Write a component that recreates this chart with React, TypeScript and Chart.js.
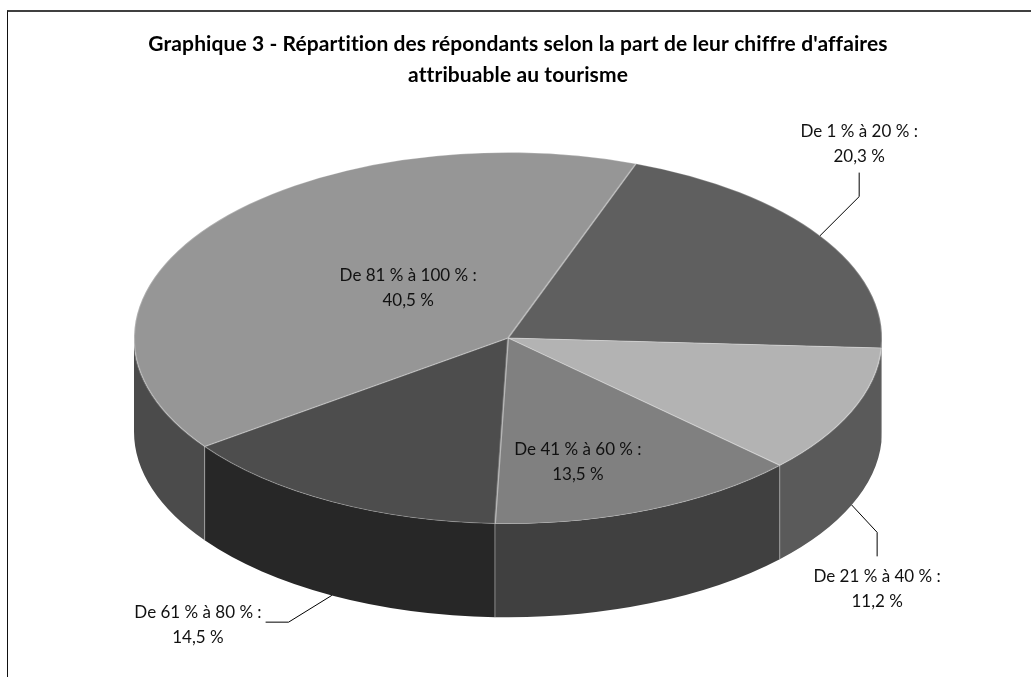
import React, { useEffect, useRef } from "react";
import { Chart, registerables } from "chart.js";

Chart.register(...registerables);

// ---- data ----
const titleLines = [
  "Graphique 3 - Répartition des répondants selon la part de leur chiffre d'affaires",
  "attribuable au tourisme",
];
const categories = [
  "De 1 % à 20 %",
  "De 21 % à 40 %",
  "De 41 % à 60 %",
  "De 61 % à 80 %",
  "De 81 % à 100 %",
];
const shares = [20.3, 11.2, 13.5, 14.5, 40.5];

// ---- styles ----
const topColors = ["#5f5f5f", "#b3b3b3", "#808080", "#4d4d4d", "#969696"];
const sideColors = ["#303030", "#5a5a5a", "#404040", "#272727", "#4b4b4b"];
const STRETCH = 375 / 186; // horizontal radius / vertical radius of the top face
const DEPTH = 94 / 186; // wall height / vertical radius
const FONT = "Lato, 'Open Sans', sans-serif";
const LABEL_SIZE = 17;
const TITLE_SIZE = 21;
const LINE_GAP = 25;

// label placement in units of (rx, ry) from the pie centre
const labelPlacement = [
  { dx: 0.939, dy: -1.048, leader: "below" },
  { dx: 0.987, dy: 1.355, leader: "above" },
  { dx: 0.187, dy: 0.667, leader: "" },
  { dx: -0.829, dy: 1.548, leader: "right" },
  { dx: -0.267, dy: -0.269, leader: "" },
];

const fmt = (v: number) => v.toFixed(1).replace(".", ",") + " %";

export default function App() {
  const ref = useRef<HTMLCanvasElement>(null);

  useEffect(() => {
    const canvas = ref.current;
    if (!canvas) return;

    const pie3d = {
      id: "pie3d",
      beforeDatasetsDraw(chart: any) {
        const ctx = chart.ctx as CanvasRenderingContext2D;
        const arcs = chart.getDatasetMeta(0).data as any[];
        if (!arcs.length) return;
        const { x: cx, y: cy, outerRadius: R } = arcs[0];
        const rx = R * STRETCH;
        const ry = R;
        const D = R * DEPTH;
        ctx.save();
        arcs.forEach((a, i) => {
          const s = a.startAngle;
          const e = a.endAngle;
          for (const k of [-1, 0, 1]) {
            const lo = k * 2 * Math.PI;
            const b1 = Math.max(s, lo);
            const b2 = Math.min(e, lo + Math.PI);
            if (b2 > b1) {
              ctx.beginPath();
              ctx.ellipse(cx, cy, rx, ry, 0, b1, b2, false);
              ctx.ellipse(cx, cy + D, rx, ry, 0, b2, b1, true);
              ctx.closePath();
              ctx.fillStyle = sideColors[i];
              ctx.fill();
            }
          }
        });
        // light separators on the wall
        ctx.strokeStyle = "rgba(200,200,200,0.55)";
        ctx.lineWidth = 1;
        arcs.forEach((a) => {
          const ang = a.startAngle;
          if (Math.sin(ang) > 0) {
            const x = cx + rx * Math.cos(ang);
            const y = cy + ry * Math.sin(ang);
            ctx.beginPath();
            ctx.moveTo(x, y);
            ctx.lineTo(x, y + D);
            ctx.stroke();
          }
        });
        ctx.restore();
        // stretch the library's circular pie into the top ellipse
        ctx.save();
        ctx.translate(cx, cy);
        ctx.scale(STRETCH, 1);
        ctx.translate(-cx, -cy);
      },
      afterDatasetsDraw(chart: any) {
        const arcs = chart.getDatasetMeta(0).data as any[];
        if (!arcs.length) return;
        chart.ctx.restore();
      },
      afterDraw(chart: any) {
        const ctx = chart.ctx as CanvasRenderingContext2D;
        const arcs = chart.getDatasetMeta(0).data as any[];
        if (!arcs.length) return;
        const { x: cx, y: cy, outerRadius: R } = arcs[0];
        const rx = R * STRETCH;
        const ry = R;
        const D = R * DEPTH;
        ctx.save();
        ctx.textAlign = "center";
        ctx.textBaseline = "middle";
        ctx.fillStyle = "#111";
        ctx.font = `${LABEL_SIZE}px ${FONT}`;
        arcs.forEach((a, i) => {
          const p = labelPlacement[i];
          const lx = cx + p.dx * rx;
          const ly = cy + p.dy * ry;
          const l1 = categories[i] + " :";
          const l2 = fmt(shares[i]);
          ctx.fillText(l1, lx, ly - LINE_GAP / 2);
          ctx.fillText(l2, lx, ly + LINE_GAP / 2);
          if (p.leader) {
            const m = (a.startAngle + a.endAngle) / 2;
            const ax = cx + rx * Math.cos(m);
            const ay = cy + ry * Math.sin(m) + (Math.sin(m) > 0 ? D : 0);
            let sx = lx, sy = ly, ex = lx, ey = ly;
            if (p.leader === "below") {
              sy = ly + 29; ey = ly + 53;
            } else if (p.leader === "above") {
              sy = ly - 33; ey = ly - 57;
            } else {
              const w = ctx.measureText(l1).width;
              sx = lx + w / 2 + 4; sy = ly - 3;
              ex = sx + 23; ey = sy;
            }
            ctx.beginPath();
            ctx.strokeStyle = "#000";
            ctx.lineWidth = 1;
            ctx.moveTo(sx, sy);
            ctx.lineTo(ex, ey);
            ctx.lineTo(ax, ay);
            ctx.stroke();
          }
        });
        // title
        ctx.font = `bold ${TITLE_SIZE}px ${FONT}`;
        try {
          (ctx as any).letterSpacing = "0.1px";
        } catch (e) {}
        ctx.fillStyle = "#000";
        ctx.fillText(titleLines[0], 518, 44);
        ctx.fillText(titleLines[1], 518, 75);
        ctx.restore();
      },
    };

    const chart = new Chart(canvas, {
      type: "pie",
      data: {
        labels: categories,
        datasets: [
          {
            data: shares,
            backgroundColor: topColors,
            borderColor: "rgba(255,255,255,0.25)",
            borderWidth: 1,
            clip: false as any,
          },
        ],
      },
      options: {
        responsive: false,
        maintainAspectRatio: false,
        devicePixelRatio: 1,
        animation: false,
        rotation: 20,
        layout: { padding: { top: 152, bottom: 153, left: 136, right: 151 } },
        plugins: {
          legend: { display: false },
          title: { display: false },
          tooltip: { enabled: false },
        },
        events: [],
      },
      plugins: [pie3d],
    });
    return () => chart.destroy();
  }, []);

  return (
    <div
      style={{
        position: "absolute",
        left: 0,
        top: 0,
        width: 1031,
        height: 677,
        background: "#fff",
        overflow: "hidden",
      }}
    >
      <canvas ref={ref} width={1031} height={677} style={{ display: "block" }} />
      <div
        style={{
          position: "absolute",
          left: 7,
          top: 10,
          width: 1030,
          height: 680,
          borderTop: "2px solid #404040",
          borderLeft: "1px solid #111",
          pointerEvents: "none",
        }}
      />
    </div>
  );
}
